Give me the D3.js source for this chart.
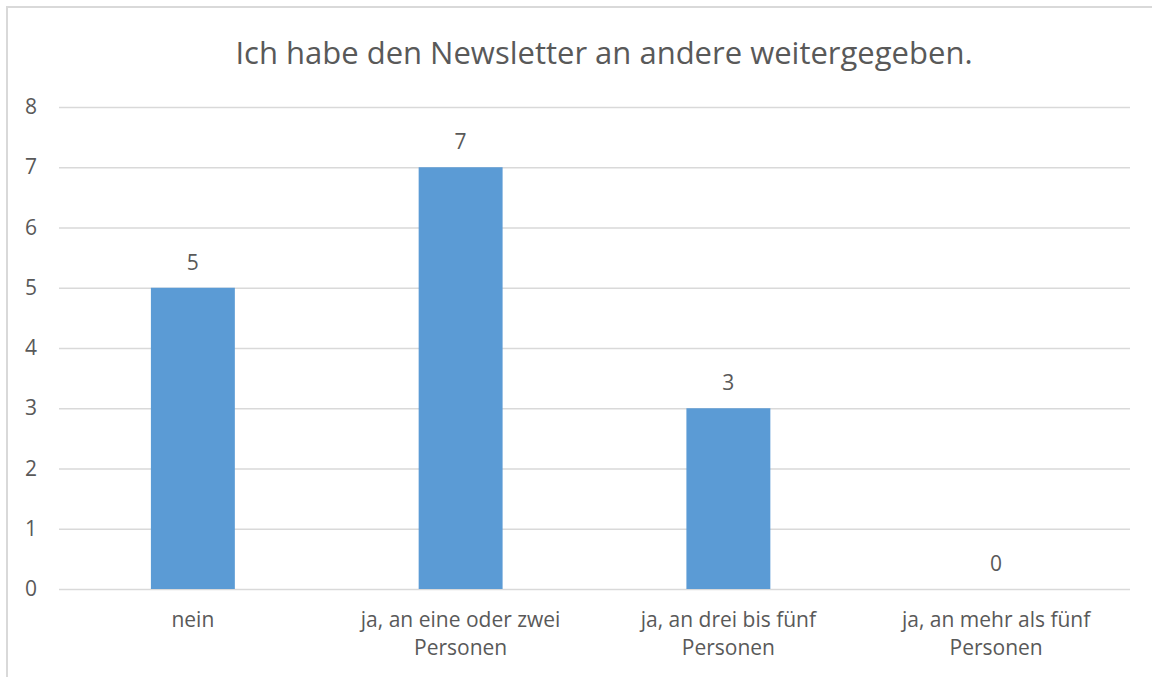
<!DOCTYPE html>
<html>
<head>
<meta charset="utf-8">
<script src="https://cdn.jsdelivr.net/npm/d3@7"></script>
<style>
  html, body { margin: 0; padding: 0; background: #fff; }
  svg { display: block; }
  text { font-family: "Open Sans", sans-serif; fill: #595959; }
</style>
</head>
<body>
<svg id="chart" width="1152" height="677"></svg>
<script>
const title = "Ich habe den Newsletter an andere weitergegeben.";
const categories = ["nein", "ja, an eine oder zwei Personen", "ja, an drei bis fünf Personen", "ja, an mehr als fünf Personen"];
const values = [5, 7, 3, 0];
const yTicks = [0, 1, 2, 3, 4, 5, 6, 7, 8];

const W = 1152, H = 677;
const margin = { left: 59, right: 22, top: 107, bottom: 88 };
const svg = d3.select("#chart");

// frame
svg.append("rect")
  .attr("x", 7).attr("y", 7)
  .attr("width", W + 20).attr("height", H + 20)
  .attr("fill", "#fff").attr("stroke", "#D9D9D9").attr("stroke-width", 2);

const x = d3.scaleBand().domain(categories)
  .range([margin.left, W - margin.right])
  .paddingInner(0).paddingOuter(0);
const y = d3.scaleLinear().domain([0, 8]).range([H - margin.bottom, margin.top]);

// title
svg.append("text")
  .attr("x", 604).attr("y", 64)
  .attr("text-anchor", "middle")
  .style("font-size", "31px")
  .text(title);

// gridlines
const gridAxis = d3.axisLeft(y).tickValues(yTicks)
  .tickSize(-(W - margin.right - margin.left)).tickFormat("");
const g = svg.append("g").attr("transform", `translate(${margin.left},0)`).call(gridAxis);
g.select(".domain").remove();
g.selectAll("line").attr("stroke", "#D9D9D9").attr("stroke-width", 1.5);

// y labels
const yAxis = d3.axisLeft(y).tickValues(yTicks).tickSize(0).tickPadding(0).tickFormat(d3.format("d"));
const ya = svg.append("g").attr("transform", `translate(37,0)`).call(yAxis);
ya.select(".domain").remove();
ya.selectAll("text").style("font-size", "21px").attr("fill", "#595959")
  .style("font-family", '"Open Sans", sans-serif');

// bars (gap width 219%)
const barW = x.bandwidth() / 3.19;
svg.selectAll("rect.bar").data(values).enter().append("rect")
  .attr("class", "bar")
  .attr("x", (d, i) => x(categories[i]) + (x.bandwidth() - barW) / 2)
  .attr("width", barW)
  .attr("y", d => y(d))
  .attr("height", d => y(0) - y(d))
  .attr("fill", "#5B9BD5");

// data labels
svg.selectAll("text.lbl").data(values).enter().append("text")
  .attr("class", "lbl")
  .attr("x", (d, i) => x(categories[i]) + x.bandwidth() / 2)
  .attr("y", d => y(d) - 18)
  .attr("text-anchor", "middle")
  .style("font-size", "21px")
  .text(d => d);

// category labels with wrapping
const maxW = 230;
categories.forEach((c, i) => {
  const cx = x(c) + x.bandwidth() / 2;
  const t = svg.append("text")
    .attr("x", cx)
    .attr("y", 627)
    .attr("text-anchor", "middle")
    .style("font-size", "21px");
  const words = c.split(" ");
  let line = [];
  let ts = t.append("tspan").attr("x", cx).attr("dy", 0);
  words.forEach(w => {
    line.push(w);
    ts.text(line.join(" "));
    if (ts.node().getComputedTextLength() > maxW && line.length > 1) {
      line.pop();
      ts.text(line.join(" "));
      line = [w];
      ts = t.append("tspan").attr("x", cx).attr("dy", 28).text(w);
    }
  });
});
</script>
</body>
</html>
